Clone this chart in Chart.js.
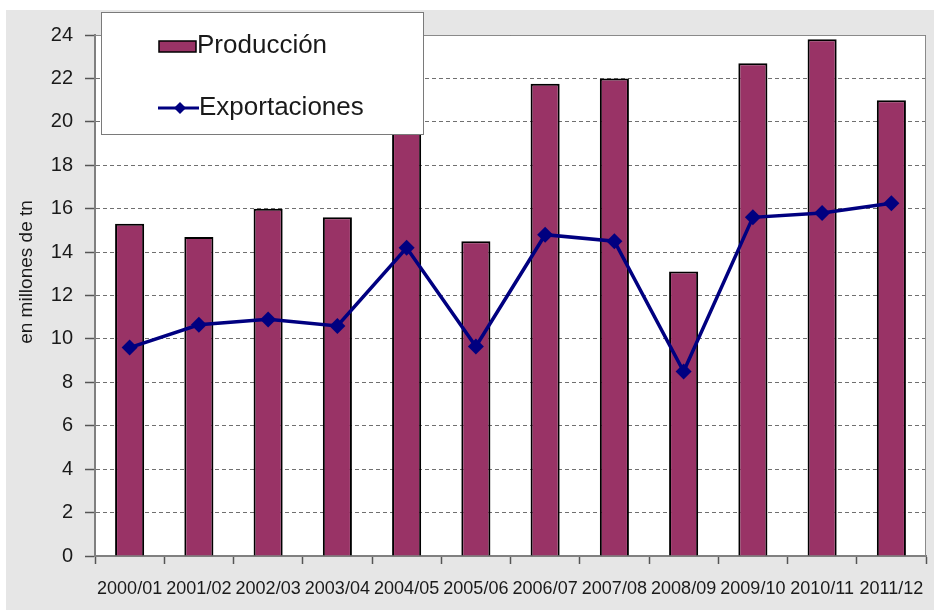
<!DOCTYPE html>
<html>
<head>
<meta charset="utf-8">
<script src="https://cdn.jsdelivr.net/npm/chart.js@4/dist/chart.umd.min.js"></script>
<style>
  html, body { margin: 0; padding: 0; background: #fff; }
  #wrap { width: 934px; height: 610px; }
</style>
</head>
<body>
<div id="wrap"><canvas id="prod-chart" width="934" height="610"></canvas></div>
<script>
// campañas
var campanias = ['2000/01', '2001/02', '2002/03', '2003/04', '2004/05', '2005/06',
                 '2006/07', '2007/08', '2008/09', '2009/10', '2010/11', '2011/12'];
// millones de tn
var produccion = [15.3, 14.7, 16.0, 15.6, 20.6, 14.5, 21.75, 22.0, 13.1, 22.7, 23.8, 21.0];
var exportaciones = [9.6, 10.65, 10.9, 10.6, 14.2, 9.65, 14.8, 14.5, 8.5, 15.6, 15.8, 16.25];
var yTicks = [0, 2, 4, 6, 8, 10, 12, 14, 16, 18, 20, 22, 24];

var FONT = '"Liberation Sans", Arial, sans-serif';
var TXT = '#1a1a1a';
var PLUM = '#993366';
var NAVY = '#000080';

// fondo gris, area de grafico blanca, titulo del eje y recuadro de leyenda
var marco = {
  id: 'marco',
  beforeDraw: function(chart) {
    var ctx = chart.ctx, a = chart.chartArea;
    ctx.save();
    ctx.fillStyle = '#fff';
    ctx.fillRect(0, 0, chart.width, chart.height);
    ctx.fillStyle = '#e6e6e6';
    ctx.fillRect(6, 10, chart.width - 6, chart.height - 10);
    ctx.fillStyle = '#fff';
    ctx.fillRect(a.left, a.top, a.right - a.left, a.bottom - a.top);
    ctx.restore();
  },
  afterDraw: function(chart) {
    var ctx = chart.ctx, a = chart.chartArea;
    ctx.save();
    // borde superior y derecho del area
    ctx.strokeStyle = '#8a8a8a';
    ctx.lineWidth = 1;
    ctx.beginPath();
    ctx.moveTo(a.left, a.top + 0.5);
    ctx.lineTo(a.right - 0.5, a.top + 0.5);
    ctx.lineTo(a.right - 0.5, a.bottom);
    ctx.stroke();

    // titulo del eje
    ctx.fillStyle = TXT;
    ctx.font = '19px ' + FONT;
    ctx.textAlign = 'center';
    ctx.textBaseline = 'middle';
    ctx.translate(27, 272);
    ctx.rotate(-Math.PI / 2);
    ctx.fillText('en millones de tn', 0, 0);
    ctx.restore();

    // leyenda
    var ds = chart.data.datasets;
    ctx.save();
    ctx.fillStyle = '#fff';
    ctx.fillRect(101, 12, 322, 122);
    ctx.strokeStyle = '#7a7a7a';
    ctx.lineWidth = 1;
    ctx.strokeRect(101.5, 12.5, 322, 122);

    ctx.fillStyle = ds[0].backgroundColor;
    ctx.fillRect(159, 41, 37, 11);
    ctx.strokeStyle = '#000';
    ctx.lineWidth = 1.5;
    ctx.strokeRect(159, 41, 37, 11);

    ctx.strokeStyle = ds[1].borderColor;
    ctx.lineWidth = 3;
    ctx.beginPath();
    ctx.moveTo(158, 108);
    ctx.lineTo(199, 108);
    ctx.stroke();
    ctx.fillStyle = ds[1].borderColor;
    ctx.beginPath();
    ctx.moveTo(180, 102);
    ctx.lineTo(186, 108);
    ctx.lineTo(180, 114);
    ctx.lineTo(174, 108);
    ctx.closePath();
    ctx.fill();

    ctx.fillStyle = TXT;
    ctx.font = '26px ' + FONT;
    ctx.textAlign = 'left';
    ctx.textBaseline = 'alphabetic';
    ctx.fillText(ds[0].label, 197, 53);
    ctx.fillText(ds[1].label, 199, 115);
    ctx.restore();
  }
};

var config = {
  data: {
    labels: campanias,
    datasets: [{
      type: 'bar',
      label: 'Producción',
      data: produccion,
      backgroundColor: PLUM,
      borderColor: '#000',
      borderWidth: 2,
      categoryPercentage: 1,
      barPercentage: 0.42,
      order: 2
    }, {
      type: 'line',
      label: 'Exportaciones',
      data: exportaciones,
      borderColor: NAVY,
      backgroundColor: NAVY,
      borderWidth: 3.5,
      tension: 0,
      pointStyle: 'rectRot',
      pointRadius: 8,
      pointBorderWidth: 0,
      order: 1
    }]
  },
  options: {
    responsive: false,
    animation: false,
    layout: { padding: { top: 35, right: 4, left: 0, bottom: 0 } },
    plugins: {
      legend: { display: false },
      tooltip: { enabled: false }
    },
    scales: {
      x: {
        offset: true,
        grid: {
          offset: true,
          drawOnChartArea: false,
          drawTicks: true,
          tickLength: 8,
          tickColor: '#555',
          tickWidth: 1.5
        },
        border: { color: '#808080', width: 2 },
        ticks: {
          color: TXT,
          font: { family: FONT, size: 18 },
          padding: 14,
          maxRotation: 0,
          autoSkip: false
        },
        afterFit: function(scale) {
          scale.height = 54;
          scale.paddingLeft = 0;
          scale.paddingRight = 0;
        }
      },
      y: {
        min: 0,
        max: 24,
        afterBuildTicks: function(scale) {
          scale.ticks = yTicks.map(function(v) { return { value: v }; });
        },
        grid: {
          color: '#707070',
          lineWidth: 1,
          tickLength: 10,
          tickColor: '#555',
          tickWidth: 1.5,
          tickBorderDash: []
        },
        border: { color: '#808080', width: 2, dash: [4, 3] },
        ticks: {
          color: TXT,
          font: { family: FONT, size: 20 },
          padding: 12
        },
        afterFit: function(scale) { scale.width = 95; }
      }
    }
  },
  plugins: [marco]
};

var ctx = document.getElementById('prod-chart').getContext('2d');
window.prodChart = new Chart(ctx, config);
</script>
</body>
</html>
